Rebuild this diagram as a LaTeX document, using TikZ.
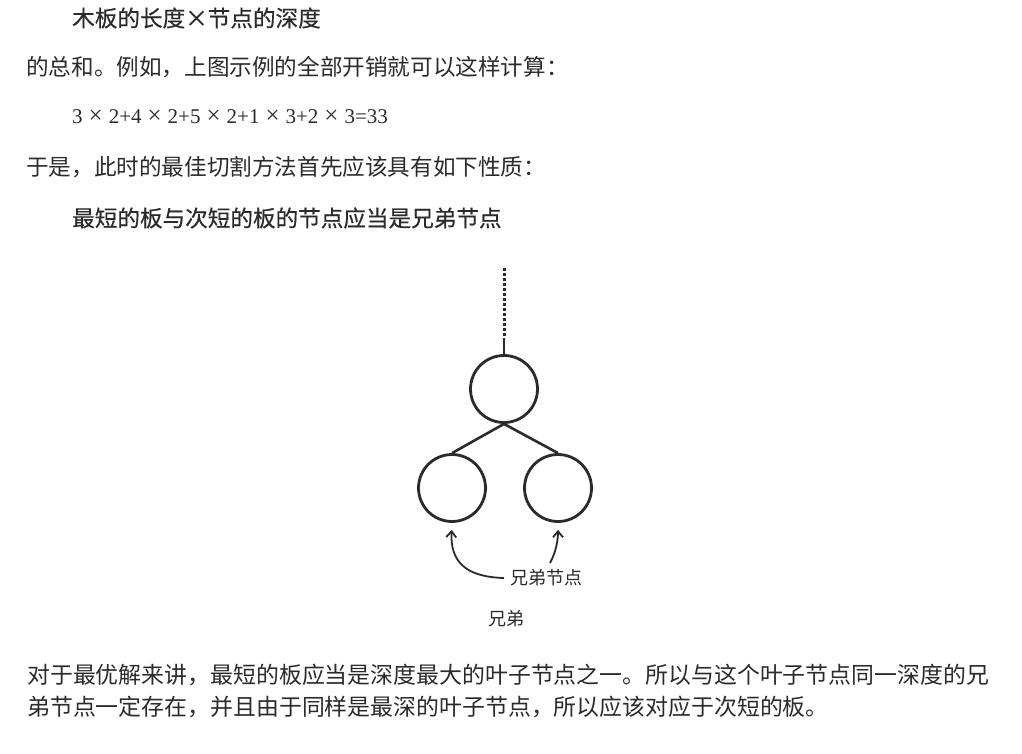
\documentclass[tikz,border=0pt]{standalone}
\usepackage{fontspec}
\setmainfont{Noto Sans CJK SC}
\newfontfamily\hei[FakeBold=0.5]{Noto Sans CJK SC}
\newfontfamily\tms{Liberation Serif}
\usetikzlibrary{arrows.meta}
\definecolor{ink}{HTML}{2B2B2B}
\newcommand\tmul{\hspace{6pt}{\fontsize{25}{24}\selectfont ×}\hspace{6pt}}
\begin{document}
\begin{tikzpicture}[x=1pt,y=-1pt,
  txt/.style={anchor=west,inner sep=0pt,text=ink,font=\fontsize{22.6}{26}\selectfont},
  head/.style={anchor=west,inner sep=0pt,text=ink,font=\hei\fontsize{22.6}{26}\selectfont},
  formula/.style={anchor=west,inner sep=0pt,text=ink,font=\tms\fontsize{21}{24}\selectfont},
  circ/.style={circle,draw=ink,line width=2.8pt,minimum size=67pt,inner sep=0pt},
  edge/.style={draw=ink,line width=2.6pt},
  lbl/.style={inner sep=0pt,text=ink,font=\fontsize{18}{20}\selectfont},
  arr/.style={draw=ink,line width=1.8pt,-{Straight Barb[length=6pt,width=10pt]}}]
\useasboundingbox[fill=white] (0,0) rectangle (1022,754);

\node[head] (h1) at (72,18) {木板的长度×节点的深度};
\node[txt] (t2) at (26,67) {的总和。例如，上图示例的全部开销就可以这样计算：};
\node[formula] (f) at (72,117) {3\tmul 2+4\tmul 2+5\tmul 2+1\tmul 3+2\tmul 3=33};
\node[txt] (t4) at (26,167) {于是，此时的最佳切割方法首先应该具有如下性质：};
\node[head] (h5) at (72,218) {最短的板与次短的板的节点应当是兄弟节点};

\coordinate (dtop) at (504,268);
\coordinate (dmid) at (504,338);
\node[circ] (p) at (504,389) {};
\node[circ] (l) at (452,488) {};
\node[circ] (r) at (558,488) {};
\draw[edge, line width=3pt, dash pattern=on 3pt off 2pt] (dtop) -- (dmid);
\draw[edge] (dmid) -- (p.north);
\draw[edge] (p.south) -- (l.north);
\draw[edge] (p.south) -- (r.north);

\node[lbl,anchor=west] (lab) at (510,578) {兄弟节点};
\node[lbl] (cap) at (506,619) {兄弟};
\coordinate (ra) at (550,563);
\draw[arr,shorten >=7pt] ([xshift=-6pt]lab.west) .. controls (466,577) and (450,562) .. (l.south);
\draw[arr,shorten >=7pt] (ra) .. controls (556,552) and (558,540) .. (r.south);

\node[txt,font=\fontsize{22.9}{26}\selectfont] (b1) at (27,675) {对于最优解来讲，最短的板应当是深度最大的叶子节点之一。所以与这个叶子节点同一深度的兄};
\node[txt,font=\fontsize{22.9}{26}\selectfont] (b2) at (27,707) {弟节点一定存在，并且由于同样是最深的叶子节点，所以应该对应于次短的板。};
\end{tikzpicture}
\end{document}
